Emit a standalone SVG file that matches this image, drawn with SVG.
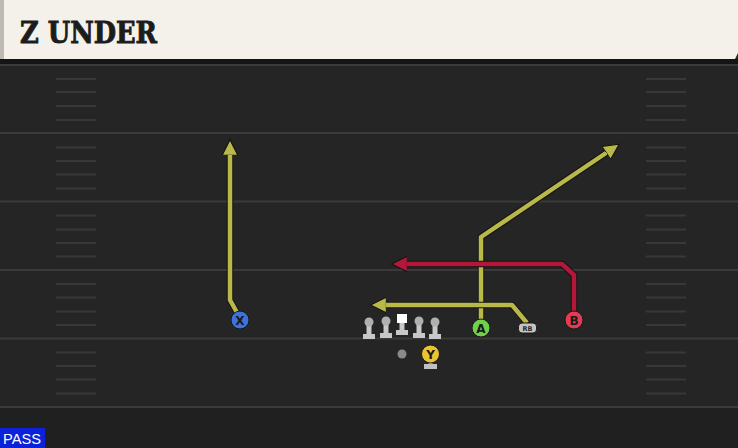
<svg xmlns="http://www.w3.org/2000/svg" width="738" height="448" viewBox="0 0 738 448">
<defs>
<style>
.major{stroke:#3a3a3a;stroke-width:2}
.hash{stroke:#383838;stroke-width:2}
.route-o{fill:none;stroke:#141414;stroke-width:6.5;stroke-linejoin:round;stroke-linecap:round}
.ry{fill:none;stroke:#b9b949;stroke-width:4.5;stroke-linejoin:round}
.rr{fill:none;stroke:#b3173a;stroke-width:4.5;stroke-linejoin:round}
.lbl{font-family:"DejaVu Sans",sans-serif;font-weight:bold;font-size:12px;fill:#1a1a1a;text-anchor:middle}
</style>
<marker id="ay" markerUnits="userSpaceOnUse" markerWidth="18" markerHeight="18" refX="3" refY="8" orient="auto" viewBox="0 0 16 16">
<path d="M0,1 L14,8 L0,15 Z" fill="#b9b949" stroke="#141414" stroke-width="1"/>
</marker>
<marker id="ar" markerUnits="userSpaceOnUse" markerWidth="18" markerHeight="18" refX="3" refY="8" orient="auto" viewBox="0 0 16 16">
<path d="M0,1 L14,8 L0,15 Z" fill="#b3173a" stroke="#141414" stroke-width="1"/>
</marker>
<g id="lineman">
<rect x="-2.5" y="-4" width="5" height="11" fill="#c8c8c8"/>
<circle cx="0" cy="-6" r="4.5" fill="#b0b0b0"/>
<rect x="-6" y="6" width="12" height="5" fill="#c8c8c8"/>
</g>
</defs>

<g id="field">
<rect x="0" y="0" width="738" height="448" fill="#252525"/>
<rect x="0" y="408" width="738" height="40" fill="#202020"/>
<rect x="0" y="59" width="738" height="6" fill="#141414"/>
<line class="major" x1="0" y1="65" x2="738" y2="65"/>
<line class="major" x1="0" y1="133" x2="738" y2="133"/>
<line class="major" x1="0" y1="201.5" x2="738" y2="201.5"/>
<line class="major" x1="0" y1="270" x2="738" y2="270"/>
<line class="major" x1="0" y1="338.5" x2="738" y2="338.5"/>
<line class="major" x1="0" y1="407" x2="738" y2="407"/>
<g id="hash-left">
<line class="hash" x1="56" y1="79" x2="96" y2="79"/>
<line class="hash" x1="56" y1="92" x2="96" y2="92"/>
<line class="hash" x1="56" y1="106" x2="96" y2="106"/>
<line class="hash" x1="56" y1="120" x2="96" y2="120"/>
<line class="hash" x1="56" y1="147.5" x2="96" y2="147.5"/>
<line class="hash" x1="56" y1="161" x2="96" y2="161"/>
<line class="hash" x1="56" y1="174.5" x2="96" y2="174.5"/>
<line class="hash" x1="56" y1="188.5" x2="96" y2="188.5"/>
<line class="hash" x1="56" y1="215.5" x2="96" y2="215.5"/>
<line class="hash" x1="56" y1="229.5" x2="96" y2="229.5"/>
<line class="hash" x1="56" y1="243" x2="96" y2="243"/>
<line class="hash" x1="56" y1="256.5" x2="96" y2="256.5"/>
<line class="hash" x1="56" y1="284" x2="96" y2="284"/>
<line class="hash" x1="56" y1="297.5" x2="96" y2="297.5"/>
<line class="hash" x1="56" y1="311.5" x2="96" y2="311.5"/>
<line class="hash" x1="56" y1="325" x2="96" y2="325"/>
<line class="hash" x1="56" y1="352.5" x2="96" y2="352.5"/>
<line class="hash" x1="56" y1="366" x2="96" y2="366"/>
<line class="hash" x1="56" y1="379.5" x2="96" y2="379.5"/>
<line class="hash" x1="56" y1="393.5" x2="96" y2="393.5"/>
</g>
<use href="#hash-left" x="590"/>
</g>

<g id="title">
<polygon points="0,0 738,0 738,53 735,59 0,59" fill="#f4f1ea"/>
<rect x="0" y="0" width="4" height="59" fill="#bdbab2"/>
<text x="20" y="43" font-family="DejaVu Serif Condensed, DejaVu Serif, serif" font-weight="bold" font-size="29" textLength="137" lengthAdjust="spacingAndGlyphs" fill="#1c1c1c" stroke="#1c1c1c" stroke-width="0.8">Z UNDER</text>
</g>

<g id="connectors">
<path class="route-o" d="M240,318 L230,300 L230,152"/>
<path class="ry" d="M240,318 L230,300 L230,152" marker-end="url(#ay)"/>
<path class="route-o" d="M481,322 L481,237 L609,151"/>
<path class="ry" d="M481,322 L481,237 L609,151" marker-end="url(#ay)"/>
<path class="route-o" d="M527,323 L512,305 L383,305"/>
<path class="ry" d="M527,323 L512,305 L383,305" marker-end="url(#ay)"/>
<path class="route-o" d="M574,314 L574,275 L562,264 L404,264"/>
<path class="rr" d="M574,314 L574,275 L562,264 L404,264" marker-end="url(#ar)"/>
</g>

<g id="node-X">
<circle cx="240" cy="320" r="9" fill="#3f72d8" stroke="#1a1a1a" stroke-width="1"/>
<text class="lbl" x="240" y="324.5">X</text>
</g>
<g id="node-A">
<circle cx="481" cy="328" r="9" fill="#6fd04a" stroke="#1a1a1a" stroke-width="1"/>
<text class="lbl" x="481" y="332.5">A</text>
</g>
<g id="node-B">
<circle cx="574" cy="320" r="9" fill="#e23c52" stroke="#1a1a1a" stroke-width="1"/>
<text class="lbl" x="574" y="324.5">B</text>
</g>
<g id="node-RB">
<rect x="518.5" y="323" width="18" height="10" rx="3.5" fill="#c4c4c4" stroke="#1a1a1a" stroke-width="1"/>
<text x="527.5" y="331" font-family="DejaVu Sans, sans-serif" font-weight="bold" font-size="6.5" fill="#2a2a2a" text-anchor="middle">RB</text>
</g>
<g id="node-LT"><use href="#lineman" x="369" y="328"/></g>
<g id="node-LG"><use href="#lineman" x="386" y="327"/></g>
<g id="node-C">
<rect x="399.5" y="320" width="5" height="11" fill="#c8c8c8"/>
<rect x="397" y="314" width="10" height="9" fill="#ffffff"/>
<rect x="396" y="330" width="12" height="5" fill="#c8c8c8"/>
</g>
<g id="node-RG"><use href="#lineman" x="419" y="327"/></g>
<g id="node-RT"><use href="#lineman" x="435" y="328"/></g>
<g id="node-QB">
<circle cx="402" cy="354" r="4.5" fill="#8a8a8a"/>
</g>
<g id="node-Y">
<rect x="424" y="364" width="13" height="5" fill="#c0c0c0"/>
<rect x="428.5" y="360" width="4" height="5" fill="#c0c0c0"/>
<circle cx="430.5" cy="354" r="9" fill="#eac232" stroke="#1a1a1a" stroke-width="1"/>
<text class="lbl" x="430.5" y="358.5">Y</text>
</g>

<g id="pass-tag">
<rect x="0" y="428" width="45" height="20" fill="#0b22d8"/>
<text x="3" y="444" font-family="Liberation Sans, Arial, sans-serif" font-size="15" fill="#ffffff" textLength="38" lengthAdjust="spacingAndGlyphs">PASS</text>
</g>
</svg>
